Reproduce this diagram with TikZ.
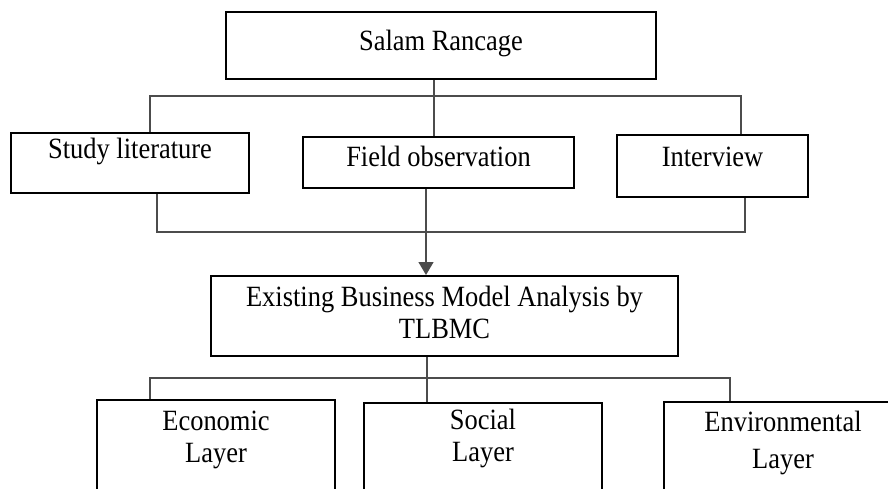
\documentclass[tikz,border=0pt]{standalone}
\usepackage{fontspec}
\setmainfont{Liberation Serif}[FakeStretch=0.9]
\usetikzlibrary{arrows.meta}

\begin{document}
\begin{tikzpicture}[x=1pt,y=-1pt,
	box/.style={draw,line width=2pt,anchor=north,inner xsep=0pt,inner ysep=0pt,align=center},
	link/.style={draw=black!70,line width=1.3pt},
	font=\fontsize{29.4}{32}\selectfont]
	\clip (0,0) rectangle (888,488);
	% first row
	\node[box,minimum width=430pt,text height=38.3pt,text depth=28.7pt] (salam) at (441,11) {Salam Rancage};
	\node[box,minimum width=238pt,text height=25.3pt,text depth=34.7pt] (study) at (130,132) {Study literature};
	\node[box,minimum width=271pt,text height=29.7pt,text depth=21.3pt] (field) at (438.5,136) {Field observation};
	\node[box,minimum width=191pt,text height=31.7pt,text depth=30.3pt] (interview) at (712.5,134) {Interview};
	% analysis
	\node[box,minimum width=467pt,text height=62pt,text depth=18pt] (analysis) at (444.5,275) {Existing Business Model Analysis by\\TLBMC};
	% layers
	\node[box,minimum width=238pt,text height=62pt,text depth=30pt] (economic) at (216,399) {Economic\\Layer};
	\node[box,minimum width=238pt,text height=58pt,text depth=32pt] (social) at (483,402) {Social\\Layer};
	\node[box,minimum width=238pt,text height=66pt,text depth=25pt] (environmental) at (783,401) {Environmental\\[5pt]Layer};
	% split points
	\coordinate (topmid) at (434,96);
	\coordinate (topleft) at (150,96);
	\coordinate (topright) at (741,96);
	\coordinate (joinleft) at (157,232);
	\coordinate (joinright) at (745,232);
	\coordinate (joinmid) at (426,232);
	\coordinate (lowmid) at (427,378);
	\coordinate (lowleft) at (150,378);
	\coordinate (lowright) at (730,378);
	% connectors
	\draw[link] (topmid |- salam.south) -- (topmid |- field.north);
	\draw[link] (topleft |- study.north) -- (topleft) -- (topright) -- (topright |- interview.north);
	\draw[link] (joinleft |- study.south) -- (joinleft) -- (joinright) -- (joinright |- interview.south);
	\draw[link,-{Triangle[length=13pt,width=15pt]}] (joinmid |- field.south) -- (joinmid |- analysis.north);
	\draw[link] (lowmid |- analysis.south) -- (lowmid |- social.north);
	\draw[link] (lowleft |- economic.north) -- (lowleft) -- (lowright) -- (lowright |- environmental.north);
\end{tikzpicture}
\end{document}
